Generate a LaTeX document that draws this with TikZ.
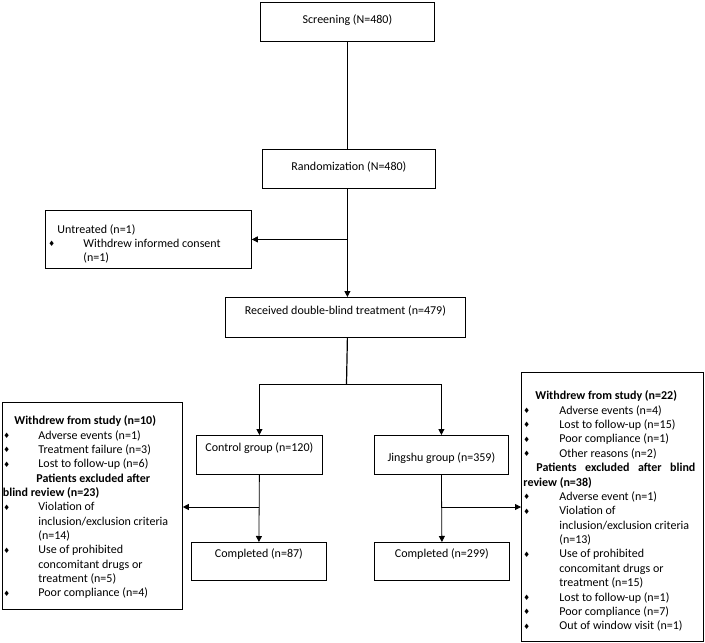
\documentclass[tikz,border=0pt]{standalone}
\usepackage{fontspec}
\setmainfont{Carlito}
\newfontfamily\symf{DejaVu Sans}
\usetikzlibrary{arrows.meta}
\tikzset{
  box/.style={draw, line width=0.8pt, inner sep=0pt, anchor=north west},
  conn/.style={line width=0.8pt},
  arr/.style={conn, -{Triangle[length=6pt,width=6pt]}},
}
\newcommand\dia{\raisebox{0.6pt}{\symf\fontsize{7.5}{7.5}\selectfont ♦}}
% simple box content: width, height, top gap, text
\newcommand\sbx[4]{\parbox[t][#2][t]{#1}{\fontsize{12}{14}\selectfont\centering\vspace*{#3}#4\par}}
% list line with bullet: left offset, text offset, text
\newcommand\bln[3]{\hbox to\hsize{\hspace*{#1}\makebox[#2][l]{\dia}#3\hfil}}
\newcommand\pln[2]{\hbox to\hsize{\hspace*{#1}#2\hfil}}
\begin{document}
\begin{tikzpicture}[x=1pt,y=-1pt]
\useasboundingbox (0,0) rectangle (705,643);
\fill[white] (0,0) rectangle (705,643);

\node[box] (scr) at (260,2) {\sbx{174pt}{39pt}{12.3pt}{Screening (N=480)}};
\node[box] (rand) at (262,149) {\sbx{173pt}{39pt}{12.8pt}{Randomization (N=480)}};
\node[box] (untr) at (45,210) {\parbox[t][58pt][t]{206pt}{\fontsize{12}{14.3}\selectfont\vspace*{14pt}%
  \pln{12pt}{Untreated (n=1)}
  \bln{3pt}{35pt}{Withdrew informed consent}
  \pln{38pt}{(n=1)}}};
\node[box] (recv) at (225,297) {\sbx{240pt}{40pt}{8pt}{Received double-blind treatment (n=479)}};
\node[box] (ctrl) at (196,435) {\sbx{126pt}{39pt}{7.8pt}{Control group (n=120)}};
\node[box] (jing) at (374,435) {\sbx{134pt}{39pt}{17.8pt}{Jingshu group (n=359)}};
\node[box] (comp1) at (191,542) {\sbx{135pt}{38pt}{6.8pt}{Completed (n=87)}};
\node[box] (comp2) at (374,542) {\sbx{135pt}{38pt}{6.8pt}{Completed (n=299)}};

\node[box] (lbox) at (2,402) {\parbox[t][207pt][t]{180pt}{\fontsize{12}{14.33}\selectfont\vspace*{13.5pt}%
  \pln{12pt}{\textbf{Withdrew from study (n=10)}}
  \bln{1pt}{35pt}{Adverse events (n=1)}
  \bln{1pt}{35pt}{Treatment failure (n=3)}
  \bln{1pt}{35pt}{Lost to follow-up (n=6)}
  \pln{34pt}{\textbf{Patients excluded after}}
  \pln{0.5pt}{\textbf{blind review (n=23)}}
  \bln{1pt}{35pt}{Violation of}
  \pln{36pt}{inclusion/exclusion criteria}
  \pln{36pt}{(n=14)}
  \bln{1pt}{35pt}{Use of prohibited}
  \pln{36pt}{concomitant drugs or}
  \pln{36pt}{treatment (n=5)}
  \bln{1pt}{35pt}{Poor compliance (n=4)}}};

\node[box] (rbox) at (521,372) {\parbox[t][269pt][t]{182pt}{\fontsize{12}{14.375}\selectfont\vspace*{18.5pt}%
  \pln{14pt}{\textbf{Withdrew from study (n=22)}}
  \bln{2pt}{36pt}{Adverse events (n=4)}
  \bln{2pt}{36pt}{Lost to follow-up (n=15)}
  \bln{2pt}{36pt}{Poor compliance (n=1)}
  \bln{2pt}{36pt}{Other reasons (n=2)}
  \pln{15pt}{\makebox[159pt][s]{\textbf{Patients}\hfill\textbf{excluded}\hfill\textbf{after}\hfill\textbf{blind}}}
  \pln{2pt}{\textbf{review (n=38)}}
  \bln{2pt}{36pt}{Adverse event (n=1)}
  \bln{2pt}{36pt}{Violation of}
  \pln{38pt}{inclusion/exclusion criteria}
  \pln{38pt}{(n=13)}
  \bln{2pt}{36pt}{Use of prohibited}
  \pln{38pt}{concomitant drugs or}
  \pln{38pt}{treatment (n=15)}
  \bln{2pt}{36pt}{Lost to follow-up (n=1)}
  \bln{2pt}{36pt}{Poor compliance (n=7)}
  \bln{2pt}{36pt}{Out of window visit (n=1)}}};

% connectors
\draw[conn] (scr.south) -- (scr.south |- rand.north);
\draw[arr] (scr.south |- rand.south) -- (scr.south |- recv.north);
\coordinate (br1) at (scr.south |- untr.east);
\draw[arr] (br1) -- (untr.east);
\coordinate (sp) at (346.5,384);
\draw[line width=1.2pt] (scr.south |- recv.south) -- (sp);
\draw[arr] (sp) -| (ctrl.north);
\draw[arr] (sp) -| (jing.north);
\draw[arr] (ctrl.south) -- (comp1.north);
\draw[arr] (jing.south) -- (comp2.north);
\coordinate (bl) at (ctrl.south |- 0,507);
\coordinate (brr) at (jing.south |- 0,507);
\draw[arr] (bl) -- (lbox.east |- bl);
\draw[arr] (brr) -- (rbox.west |- brr);
\end{tikzpicture}
\end{document}
